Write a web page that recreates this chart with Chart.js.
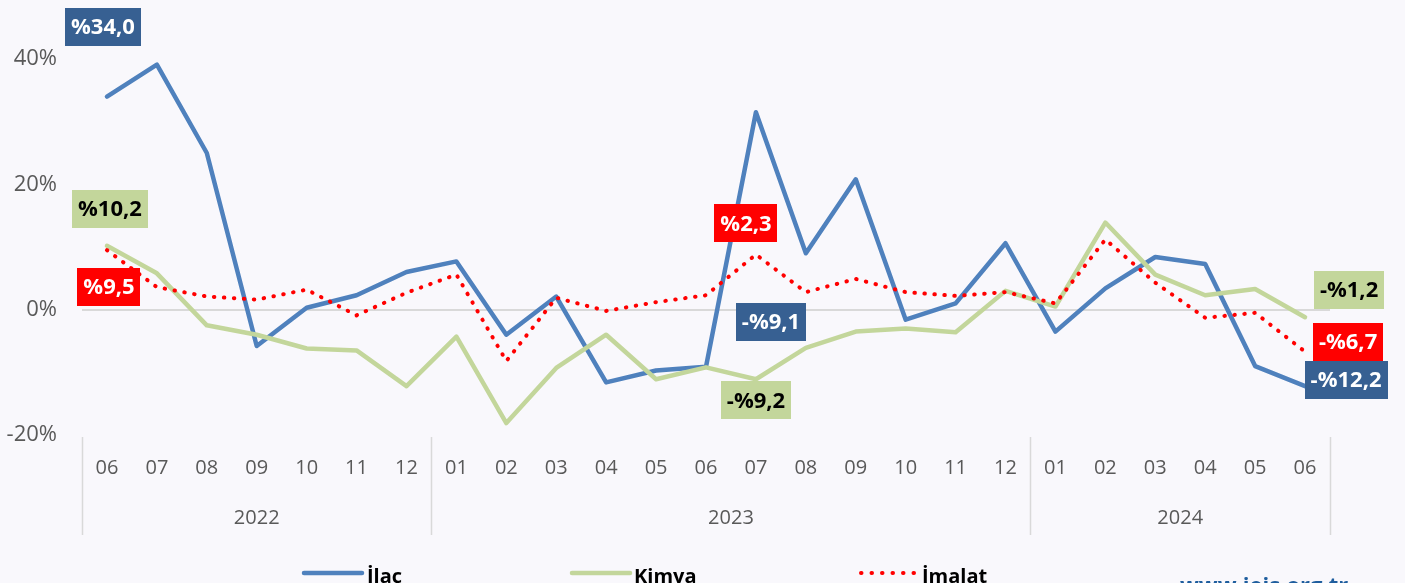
<!DOCTYPE html>
<html>
<head>
<meta charset="utf-8">
<script src="https://cdn.jsdelivr.net/npm/chart.js@4/dist/chart.umd.min.js"></script>
<style>
  html, body { margin: 0; padding: 0; background: #F9F8FC; }
  #wrap { width: 1405px; height: 583px; position: relative; }
</style>
</head>
<body>
<div id="wrap"><canvas id="c" width="1405" height="583"></canvas></div>
<script>
// ---- data ----
const months = ['06','07','08','09','10','11','12','01','02','03','04','05','06','07','08','09','10','11','12','01','02','03','04','05','06'];
const yearLabels = ['2022','2023','2024'];
const yearStartIndex = [0, 7, 19];
const ilac   = [34.0, 39.1, 25.0, -5.8, 0.3, 2.3, 6.0, 7.7, -4.0, 2.1, -11.6, -9.7, -9.1, 31.5, 9.0, 20.8, -1.6, 1.0, 10.6, -3.5, 3.4, 8.4, 7.3, -9.0, -12.2];
const kimya  = [10.2, 5.8, -2.5, -4.0, -6.2, -6.5, -12.2, -4.3, -18.1, -9.3, -4.0, -11.1, -9.2, -11.1, -6.1, -3.5, -3.0, -3.6, 3.0, 0.5, 13.9, 5.6, 2.3, 3.3, -1.2];
const imalat = [9.5, 3.6, 2.1, 1.6, 3.2, -0.9, 2.7, 5.6, -8.2, 1.9, -0.2, 1.2, 2.3, 8.8, 2.8, 4.9, 2.8, 2.2, 2.8, 1.0, 11.2, 4.3, -1.3, -0.5, -6.7];
const yTicks = [-20, 0, 20, 40];
const seriesNames = ['İlaç', 'Kimya', 'İmalat'];

// ---- styles ----
const FONT = "'Open Sans', 'Liberation Sans', sans-serif";
const colBlue = '#4F81BD', colGreen = '#C3D69B', colRed = '#FF0000';
const boxBlue = '#376092';

// callout labels: dataset index, category index, offset, box colour, text colour
const callouts = [
  {ds: 0, i: 0,  dx: -4,  dy: -70, bg: boxBlue,  fg: '#FFFFFF'},
  {ds: 1, i: 0,  dx: 3,   dy: -37, bg: colGreen, fg: '#000000'},
  {ds: 2, i: 0,  dx: 2,   dy: 37,  bg: colRed,   fg: '#FFFFFF'},
  {ds: 2, i: 12, dx: 40,  dy: -72, bg: colRed,   fg: '#FFFFFF'},
  {ds: 0, i: 12, dx: 65,  dy: -45, bg: boxBlue,  fg: '#FFFFFF'},
  {ds: 1, i: 12, dx: 50,  dy: 33,  bg: colGreen, fg: '#000000'},
  {ds: 1, i: 24, dx: 44,  dy: -27, bg: colGreen, fg: '#000000'},
  {ds: 2, i: 24, dx: 43,  dy: -10, bg: colRed,   fg: '#FFFFFF'},
  {ds: 0, i: 24, dx: 41,  dy: -6,  bg: boxBlue,  fg: '#FFFFFF'}
];

function fmt(v) {
  return (v < 0 ? '-' : '') + '%' + Math.abs(v).toFixed(1).replace('.', ',');
}

const bgPlugin = {
  id: 'bg',
  beforeDraw(chart) {
    const ctx = chart.ctx;
    ctx.save();
    ctx.fillStyle = '#F9F8FC';
    ctx.fillRect(0, 0, chart.width, chart.height);
    ctx.restore();
  }
};

const axisPlugin = {
  id: 'yearAxis',
  afterDraw(chart) {
    const ctx = chart.ctx;
    const xs = chart.scales.x;
    const half = (xs.getPixelForValue(1) - xs.getPixelForValue(0)) / 2;
    const bottom = chart.chartArea.bottom;
    ctx.save();
    ctx.strokeStyle = '#D9D9D9';
    ctx.lineWidth = 1.5;
    const seps = yearStartIndex.concat([months.length]);
    seps.forEach(idx => {
      const x = Math.round(xs.getPixelForValue(idx) - half) + 0.5;
      ctx.beginPath();
      ctx.moveTo(x, bottom + 2);
      ctx.lineTo(x, bottom + 100);
      ctx.stroke();
    });
    ctx.fillStyle = '#595959';
    ctx.font = "20px " + FONT;
    ctx.textAlign = 'center';
    ctx.textBaseline = 'middle';
    yearLabels.forEach((y, k) => {
      const a = yearStartIndex[k];
      const b = (k + 1 < yearStartIndex.length ? yearStartIndex[k + 1] : months.length) - 1;
      const x = (xs.getPixelForValue(a) + xs.getPixelForValue(b)) / 2;
      ctx.fillText(y, x, bottom + 83);
    });
    ctx.restore();
  }
};

const calloutPlugin = {
  id: 'callouts',
  afterDatasetsDraw(chart) {
    const ctx = chart.ctx;
    ctx.save();
    ctx.font = "bold 22px " + FONT;
    ctx.textAlign = 'center';
    ctx.textBaseline = 'middle';
    callouts.forEach(c => {
      const pt = chart.getDatasetMeta(c.ds).data[c.i];
      const v = chart.data.datasets[c.ds].data[c.i];
      const t = fmt(v);
      const w = ctx.measureText(t).width + 12;
      const h = 38;
      const cx = pt.x + c.dx, cy = pt.y + c.dy;
      ctx.fillStyle = c.bg;
      ctx.fillRect(Math.round(cx - w / 2), Math.round(cy - h / 2), Math.round(w), h);
      ctx.fillStyle = c.fg;
      ctx.fillText(t, cx, cy + 1);
    });
    ctx.restore();
  }
};

const legendPlugin = {
  id: 'customLegend',
  afterDraw(chart) {
    const ctx = chart.ctx;
    const items = [
      {name: seriesNames[0], color: colBlue, x0: 304, x1: 362, tx: 367, dotted: false},
      {name: seriesNames[1], color: colGreen, x0: 572, x1: 630, tx: 634, dotted: false},
      {name: seriesNames[2], color: colRed, x0: 861, x1: 916, tx: 922, dotted: true}
    ];
    ctx.save();
    const ly = 573;
    items.forEach(it => {
      ctx.strokeStyle = it.color;
      ctx.lineCap = 'round';
      ctx.beginPath();
      if (it.dotted) {
        ctx.lineWidth = 4;
        ctx.setLineDash([0.5, 10]);
      } else {
        ctx.lineWidth = 4.5;
        ctx.setLineDash([]);
      }
      ctx.moveTo(it.x0, ly);
      ctx.lineTo(it.x1, ly);
      ctx.stroke();
      ctx.setLineDash([]);
      ctx.fillStyle = '#000000';
      ctx.font = "bold 20px " + FONT;
      ctx.textAlign = 'left';
      ctx.textBaseline = 'alphabetic';
      ctx.fillText(it.name, it.tx, 583);
    });
    ctx.fillStyle = '#1F5E9E';
    ctx.font = "bold 22px " + FONT;
    ctx.fillText('www.iejs.org.tr', 1180, 593);
    ctx.restore();
  }
};

new Chart(document.getElementById('c'), {
  type: 'line',
  data: {
    labels: months,
    datasets: [
      {label: seriesNames[0], data: ilac, borderColor: colBlue, borderWidth: 4.5, pointRadius: 0, tension: 0, order: 2, borderJoinStyle: 'round', borderCapStyle: 'round'},
      {label: seriesNames[1], data: kimya, borderColor: colGreen, borderWidth: 4.5, pointRadius: 0, tension: 0, order: 1, borderJoinStyle: 'round', borderCapStyle: 'round'},
      {label: seriesNames[2], data: imalat, borderColor: colRed, borderWidth: 4, pointRadius: 0, tension: 0, order: 0, borderDash: [0.5, 9.5], borderCapStyle: 'round'}
    ]
  },
  options: {
    responsive: false,
    animation: false,
    events: [],
    layout: {padding: {top: 59, right: 75, bottom: 0, left: 0}},
    plugins: {legend: {display: false}, tooltip: {enabled: false}},
    scales: {
      x: {
        offset: true,
        grid: {display: false, drawTicks: false},
        border: {display: false},
        ticks: {color: '#595959', font: {family: FONT, size: 20}, padding: 21, maxRotation: 0, autoSkip: false},
        afterFit(s) { s.height = 148; }
      },
      y: {
        min: yTicks[0],
        max: yTicks[yTicks.length - 1],
        afterBuildTicks(s) { s.ticks = yTicks.map(v => ({value: v})); },
        grid: {
          drawTicks: false,
          lineWidth: 2,
          color: (c) => (c.tick && c.tick.value === 0) ? '#D9D9D9' : 'rgba(0,0,0,0)'
        },
        border: {display: false},
        ticks: {color: '#595959', font: {family: FONT, size: 22}, padding: 25, callback: v => v + '%'},
        afterFit(s) { s.width = 82; }
      }
    }
  },
  plugins: [bgPlugin, axisPlugin, calloutPlugin, legendPlugin]
});
</script>
</body>
</html>
